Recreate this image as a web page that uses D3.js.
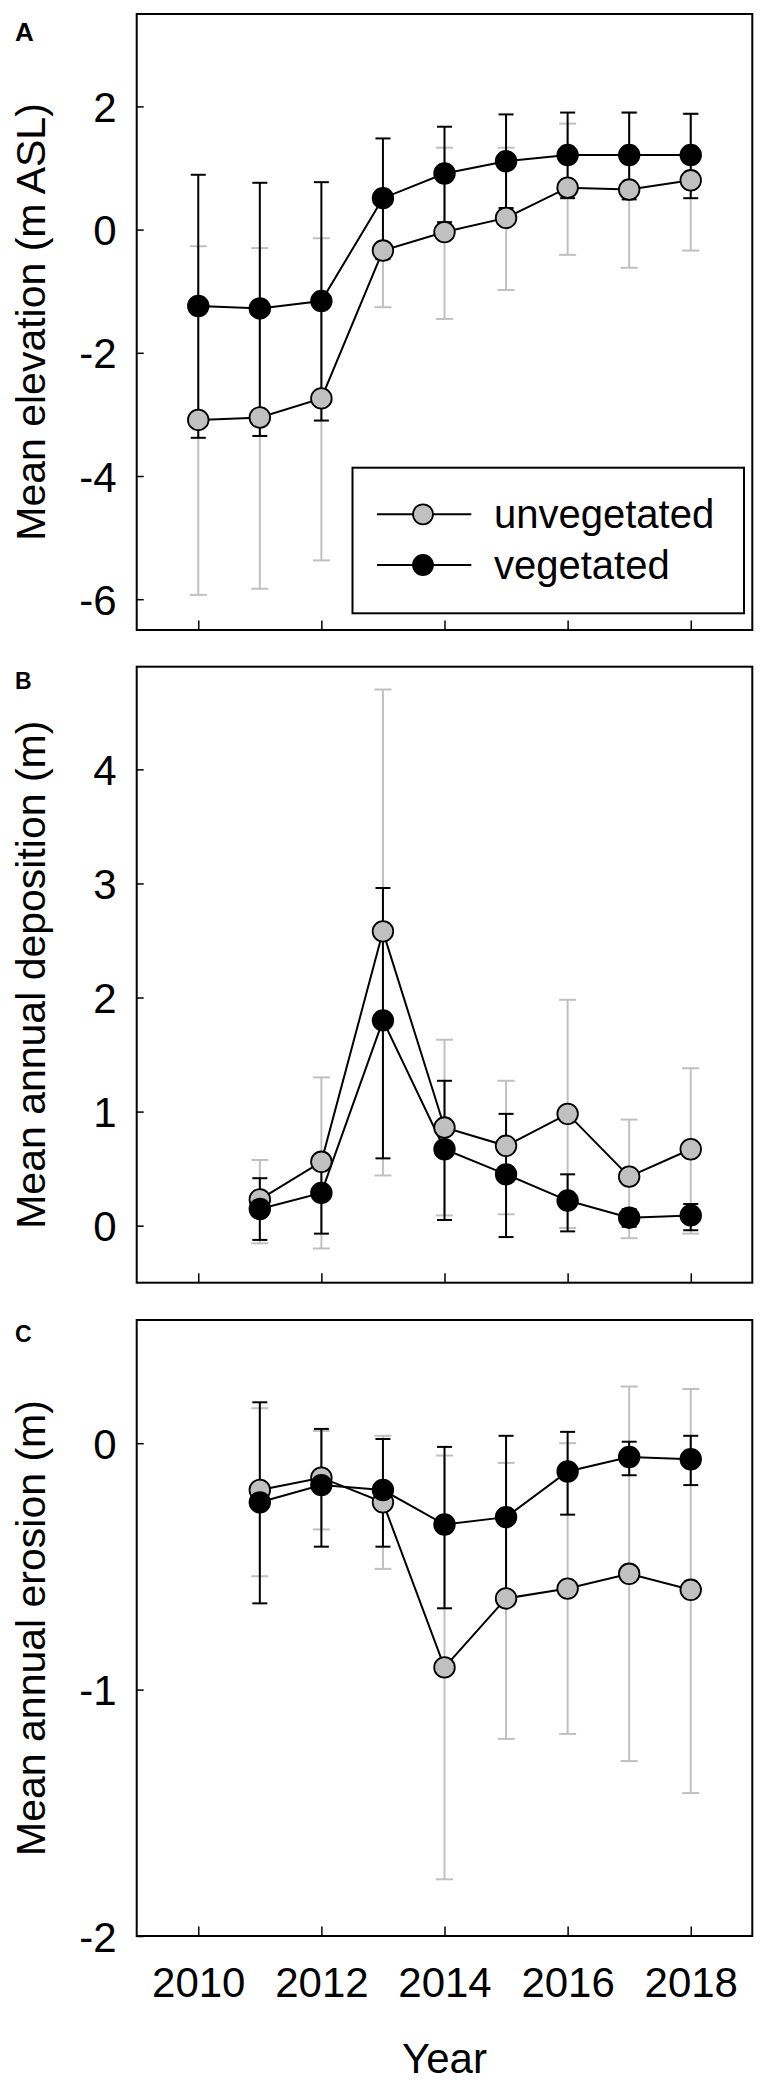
<!DOCTYPE html>
<html>
<head>
<meta charset="utf-8">
<script src="https://cdn.jsdelivr.net/npm/d3@7"></script>
<style>
  body { margin: 0; background: #fff; }
  text { font-family: "Liberation Sans", Arial, Helvetica, sans-serif; }
</style>
</head>
<body>
<div id="chart"></div>
<script>
// years
var yearsA = [2010, 2011, 2012, 2013, 2014, 2015, 2016, 2017, 2018];
var yearsBC = [2011, 2012, 2013, 2014, 2015, 2016, 2017, 2018];
var xTicks = [2010, 2012, 2014, 2016, 2018];

// A: mean elevation (m ASL)
var elevUnvegMean = [-3.09, -3.05, -2.74, -0.34, -0.04, 0.19, 0.68, 0.65, 0.80];
var elevUnvegLow  = [-5.93, -5.83, -5.37, -1.26, -1.45, -0.98, -0.41, -0.62, -0.34];
var elevUnvegHigh = [-0.27, -0.30, -0.14, 0.59, 1.33, 1.33, 1.72, 1.90, 1.88];
var elevVegMean = [-1.24, -1.28, -1.16, 0.51, 0.91, 1.11, 1.21, 1.21, 1.21];
var elevVegLow  = [-3.38, -3.35, -3.10, -0.48, 0.12, 0.35, 0.51, 0.49, 0.51];
var elevVegHigh = [0.89, 0.76, 0.77, 1.48, 1.67, 1.87, 1.90, 1.90, 1.88];

// B: mean annual deposition (m)
var depUnvegMean = [0.23, 0.56, 2.58, 0.86, 0.70, 0.98, 0.43, 0.67];
var depUnvegLow  = [-0.155, -0.20, 0.44, 0.09, 0.10, -0.02, -0.11, -0.07];
var depUnvegHigh = [0.576, 1.30, 4.70, 1.63, 1.27, 1.98, 0.93, 1.38];
var depVegMean = [0.146, 0.287, 1.80, 0.67, 0.45, 0.22, 0.07, 0.09];
var depVegLow  = [-0.125, -0.07, 0.59, 0.05, -0.10, -0.05, -0.01, -0.04];
var depVegHigh = [0.416, 0.625, 2.96, 1.27, 0.98, 0.45, 0.145, 0.19];

// C: mean annual erosion (m)
var eroUnvegMean = [-0.19, -0.14, -0.24, -0.91, -0.63, -0.59, -0.53, -0.595];
var eroUnvegLow  = [-0.54, -0.35, -0.51, -1.77, -1.20, -1.18, -1.29, -1.42];
var eroUnvegHigh = [0.142, 0.05, 0.03, -0.05, -0.08, 0.0, 0.23, 0.22];
var eroVegMean = [-0.24, -0.17, -0.19, -0.33, -0.30, -0.115, -0.056, -0.065];
var eroVegLow  = [-0.65, -0.42, -0.42, -0.67, -0.63, -0.29, -0.13, -0.17];
var eroVegHigh = [0.166, 0.058, 0.017, -0.015, 0.03, 0.046, 0.006, 0.03];

var legendLabels = ["unvegetated", "vegetated"];

function rows(years, mean, low, high) {
    return years.map(function(y, i) {
        return { year: y, mean: mean[i], low: low[i], high: high[i] };
    });
}

var panels = [
    { letter: "A", label: "Mean elevation (m ASL)", domain: [-6.5, 3.5], ticks: [-6, -4, -2, 0, 2],
      unveg: rows(yearsA, elevUnvegMean, elevUnvegLow, elevUnvegHigh),
      veg: rows(yearsA, elevVegMean, elevVegLow, elevVegHigh), legend: true },
    { letter: "B", label: "Mean annual deposition (m)", domain: [-0.5, 4.9], ticks: [0, 1, 2, 3, 4],
      unveg: rows(yearsBC, depUnvegMean, depUnvegLow, depUnvegHigh),
      veg: rows(yearsBC, depVegMean, depVegLow, depVegHigh) },
    { letter: "C", label: "Mean annual erosion (m)", domain: [-2, 0.5], ticks: [-2, -1, 0],
      unveg: rows(yearsBC, eroUnvegMean, eroUnvegLow, eroUnvegHigh),
      veg: rows(yearsBC, eroVegMean, eroVegLow, eroVegHigh), xlabels: true }
];

var width = 768, height = 2089;
var left = 136.7, plotW = 615.6, plotH = 616;
var tops = [14, 666.7, 1320];
var grey = "#c0c0c0";

var svg = d3.select("#chart")
    .append("svg")
    .attr("width", width)
    .attr("height", height);

var x = d3.scaleLinear().domain([2009, 2019]).range([0, plotW]);

panels.forEach(function(p, k) {
    var y = d3.scaleLinear().domain(p.domain).range([plotH, 0]);
    var g = svg.append("g")
        .attr("transform", "translate(" + left + "," + tops[k] + ")");

    // y axis, ticks pointing inward
    var ya = g.append("g")
        .call(d3.axisLeft(y).tickValues(p.ticks).tickSize(-7).tickPadding(20)
            .tickFormat(function(d) { return d; }));
    ya.select(".domain").remove();
    ya.selectAll("line").attr("stroke", "#000").attr("stroke-width", 1.5);
    ya.selectAll("text").attr("font-size", 42).attr("fill", "#000").attr("dy", "0.36em");

    var xa = g.append("g")
        .attr("transform", "translate(0," + plotH + ")")
        .call(d3.axisBottom(x).tickValues(xTicks).tickSize(-9.5).tickPadding(31)
            .tickFormat(p.xlabels ? d3.format("d") : function() { return ""; }));
    xa.select(".domain").remove();
    xa.selectAll("line").attr("stroke", "#000").attr("stroke-width", 1.5);
    xa.selectAll("text").attr("font-size", 42).attr("fill", "#000");

    // frame
    g.append("rect")
        .attr("width", plotW).attr("height", plotH)
        .attr("fill", "none").attr("stroke", "#000").attr("stroke-width", 2);

    // axis title
    g.append("text")
        .attr("transform", "rotate(-90)")
        .attr("x", -plotH / 2)
        .attr("y", 45 - left)
        .attr("text-anchor", "middle")
        .attr("font-size", 41)
        .text(p.label);

    // panel letter
    svg.append("text")
        .attr("x", 15).attr("y", tops[k] + (k == 0 ? 26.5 : 22))
        .attr("font-size", k == 0 ? 26 : 23).attr("font-weight", "bold")
        .text(p.letter);

    // error bars
    [[p.unveg, grey, 8.5], [p.veg, "#000", 7.5]].forEach(function(s) {
        var eb = g.append("g").attr("stroke", s[1]).attr("stroke-width", 2);
        eb.selectAll(".v").data(s[0]).enter().append("line")
            .attr("x1", function(d) { return x(d.year); })
            .attr("x2", function(d) { return x(d.year); })
            .attr("y1", function(d) { return y(d.low); })
            .attr("y2", function(d) { return y(d.high); });
        ["low", "high"].forEach(function(key) {
            eb.selectAll(".c" + key).data(s[0]).enter().append("line")
                .attr("x1", function(d) { return x(d.year) - s[2]; })
                .attr("x2", function(d) { return x(d.year) + s[2]; })
                .attr("y1", function(d) { return y(d[key]); })
                .attr("y2", function(d) { return y(d[key]); });
        });
    });

    var line = d3.line()
        .x(function(d) { return x(d.year); })
        .y(function(d) { return y(d.mean); });

    [p.unveg, p.veg].forEach(function(s) {
        g.append("path").datum(s)
            .attr("d", line)
            .attr("fill", "none").attr("stroke", "#000").attr("stroke-width", 2);
    });

    [[p.unveg, grey], [p.veg, "#000"]].forEach(function(s) {
        g.selectAll(null).data(s[0]).enter().append("circle")
            .attr("cx", function(d) { return x(d.year); })
            .attr("cy", function(d) { return y(d.mean); })
            .attr("r", 10.3)
            .attr("fill", s[1]).attr("stroke", "#000").attr("stroke-width", 1.8);
    });

    if (p.legend) {
        var lg = svg.append("g");
        lg.append("rect")
            .attr("x", 352.5).attr("y", 467.7)
            .attr("width", 391.5).attr("height", 145.6)
            .attr("fill", "#fff").attr("stroke", "#000").attr("stroke-width", 2);
        legendLabels.forEach(function(name, i) {
            var cy = 514.3 + i * 50.7;
            lg.append("line")
                .attr("x1", 377).attr("x2", 471.3).attr("y1", cy).attr("y2", cy)
                .attr("stroke", "#000").attr("stroke-width", 2);
            lg.append("circle")
                .attr("cx", 423).attr("cy", cy).attr("r", 10)
                .attr("fill", i == 0 ? grey : "#000")
                .attr("stroke", "#000").attr("stroke-width", 1.8);
            lg.append("text")
                .attr("x", 494).attr("y", cy + 14)
                .attr("font-size", 40)
                .text(name);
        });
    }
});

// x axis title
svg.append("text")
    .attr("x", left + x(2014))
    .attr("y", 2072.5)
    .attr("text-anchor", "middle")
    .attr("font-size", 42)
    .text("Year");
</script>
</body>
</html>
